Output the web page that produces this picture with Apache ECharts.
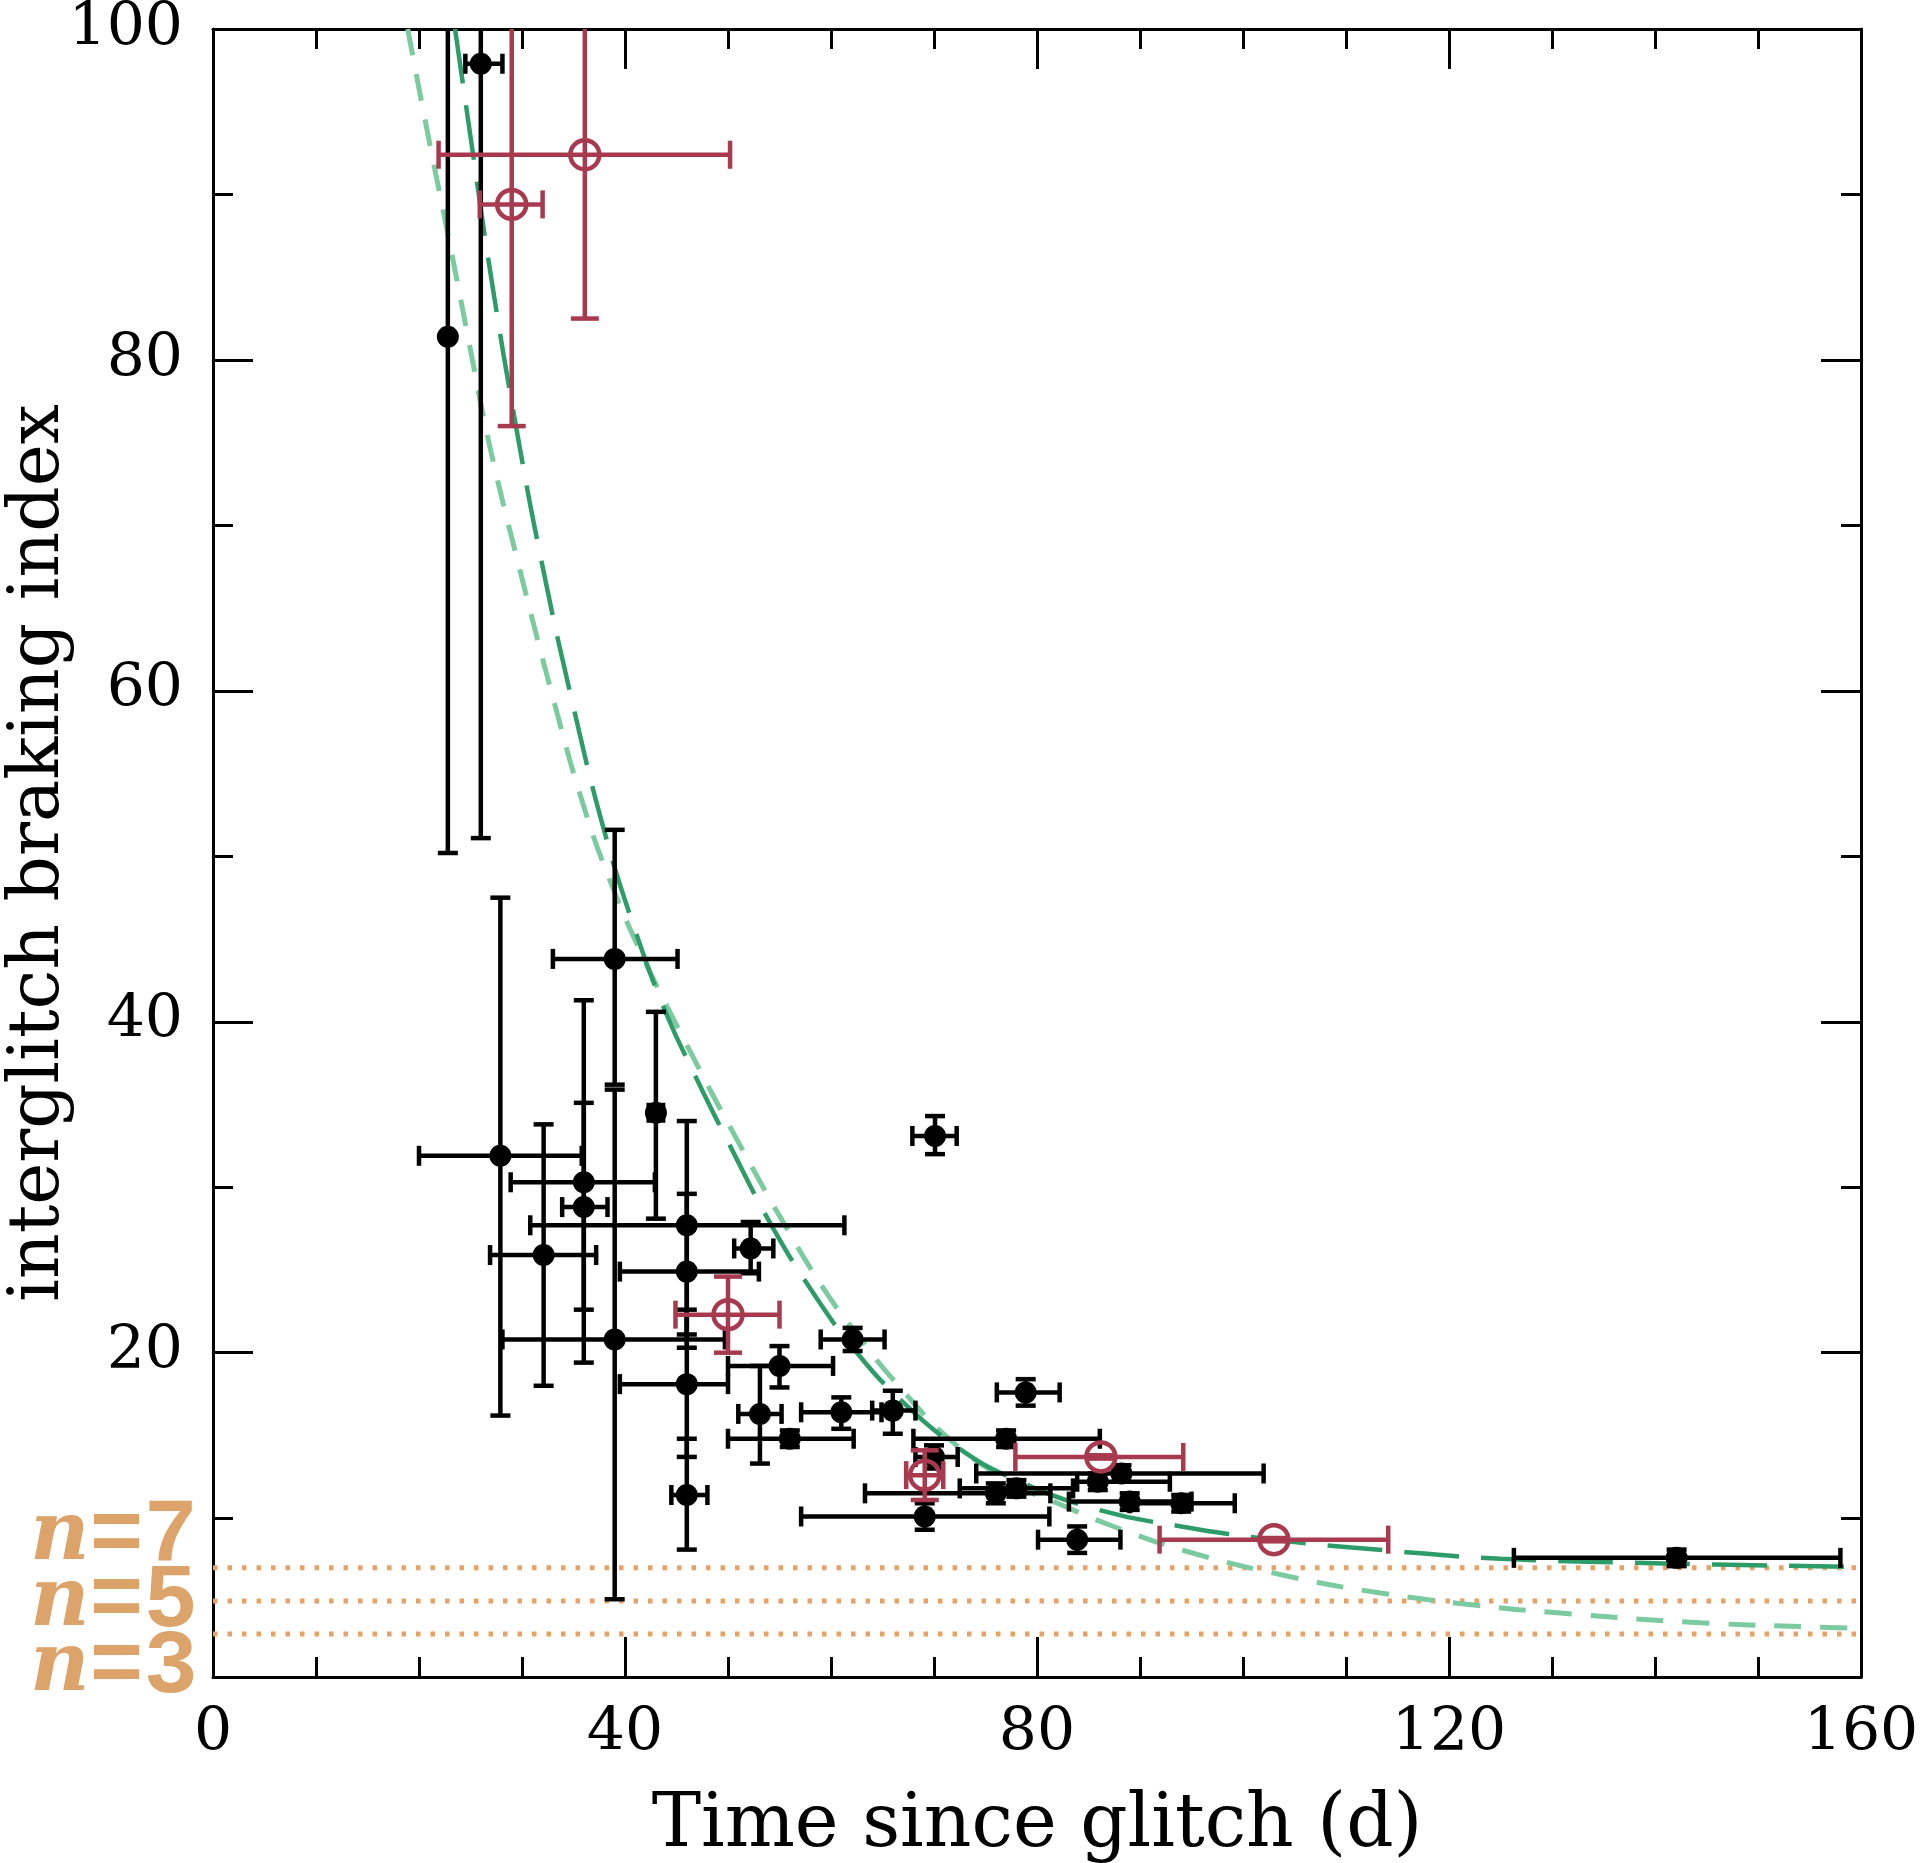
<!DOCTYPE html>
<html>
<head>
<meta charset="utf-8">
<script src="https://cdn.jsdelivr.net/npm/echarts@6/dist/echarts.min.js"></script>
<style>
html,body{margin:0;padding:0;background:#ffffff;}
#chart{width:1920px;height:1863px;}
</style>
</head>
<body>
<div id="chart"></div>
<script>
// ---- black measurements: value, error-bar ends ----
const blkX   = [26.0, 22.8, 39.0, 27.9, 36.0, 36.0, 32.1, 46.0, 43.0, 52.2, 46.0, 39.0, 46.0, 46.0, 55.0, 53.1, 56.0, 61.0, 62.1, 66.0, 70.1, 78.9, 77.0, 70.0, 69.1, 76.0, 78.0, 83.9, 88.2, 85.9, 89.0, 94.0, 142.1];
const blkY   = [97.9, 81.4, 43.8, 31.9, 30.3, 28.8, 25.9, 27.7, 34.5, 26.3, 24.9, 20.8, 18.1, 11.4, 19.2, 16.3, 14.8, 16.4, 20.8, 16.5, 33.1, 17.6, 14.8, 13.7, 10.1, 11.5, 11.8, 8.7, 12.7, 12.2, 11.0, 10.9, 7.6];
const blkXLo = [24.5, 22.8, 33.0, 20.0, 28.9, 33.9, 26.9, 30.8, 42.3, 50.6, 39.5, 28.1, 39.5, 44.5, 50.0, 51.0, 50.0, 57.1, 59.0, 64.0, 67.9, 76.1, 68.0, 68.2, 57.1, 63.3, 72.5, 80.1, 74.1, 83.9, 83.1, 89.0, 126.3];
const blkXHi = [28.1, 22.8, 45.1, 35.8, 42.9, 38.3, 37.2, 61.3, 43.7, 54.4, 53.0, 49.7, 50.0, 48.0, 60.2, 55.2, 62.2, 64.9, 65.2, 68.2, 72.2, 82.2, 86.1, 72.3, 81.2, 81.3, 83.5, 88.1, 102.0, 92.9, 95.0, 99.2, 158.0];
const blkYLo = [51.1, 50.2, 36.2, 16.2, 19.4, 22.6, 18.0, 21.1, 28.1, 24.8, 20.3, 5.1, 13.7, 8.1, 17.9, 13.3, 14.3, 15.4, 20.1, 15.1, 32.0, 16.8, 14.3, 13.0, 9.3, 10.9, 11.3, 7.9, 12.2, 11.7, 10.5, 10.4, 7.1];
const blkYHi = [144.7, 112.6, 51.6, 47.5, 41.3, 35.1, 33.8, 34.0, 40.6, 27.9, 29.6, 35.9, 22.6, 14.8, 20.4, 19.2, 15.3, 17.3, 21.5, 17.7, 34.3, 18.4, 15.3, 14.4, 10.9, 12.1, 12.3, 9.5, 13.2, 12.7, 11.5, 11.4, 8.1];

// ---- red measurements ----
const redX   = [29.0, 36.1, 50.0, 69.1, 86.2, 103.0];
const redY   = [89.4, 92.4, 22.3, 12.6, 13.7, 8.7];
const redXLo = [25.9, 21.9, 44.9, 67.3, 77.9, 91.9];
const redXHi = [32.0, 50.2, 55.0, 70.9, 94.2, 114.1];
const redYLo = [76.0, 82.5, 20.0, 11.1, 13.6, 8.6];
const redYHi = [102.8, 102.3, 24.6, 14.1, 13.8, 8.8];

// ---- model curves ----
const fitDarkX  = [23.5, 25, 27, 29.5, 32, 35, 38, 41, 44, 47, 50.2, 54.4, 58.6, 62, 66, 72, 78, 86, 94, 103, 114, 125, 142, 160];
const fitDarkY  = [100, 93.5, 85, 75.7, 67.5, 59, 51.5, 45.5, 40.5, 36.5, 32.5, 27.5, 23.3, 20.4, 17.6, 14.4, 12.3, 10.5, 9.5, 8.7, 8.05, 7.55, 7.25, 7.05];
const fitLightX = [18.9, 21, 23, 25, 26.9, 30, 33, 35.8, 38.5, 41.9, 46, 50.5, 56, 59.9, 62.8, 66, 72, 78, 82, 87, 94.5, 104.6, 113.5, 122.4, 131.1, 144.4, 157.6, 160];
const fitLightY = [100, 93.2, 87, 80.6, 74.7, 66.8, 59.6, 53.4, 48.6, 43.7, 38.6, 33.3, 27.2, 23.3, 20.9, 18.4, 14.5, 12.0, 10.9, 9.6, 8.0, 6.46, 5.46, 4.75, 4.25, 3.68, 3.38, 3.35];

// ---- reference braking indices ----
const nLevels = [7, 5, 3];

const X_MIN = 0, X_MAX = 160, Y_MIN = 0.4, Y_MAX = 100;

const C_BLACK = '#000000';
const C_RED = '#a83a4f';
const C_DARKG = '#2e9c68';
const C_LIGHTG = '#7ccaa0';
const C_ORANGE = '#e8a266';
const C_ORANGE_TXT = '#dca36a';

function rows(x, y, xl, xh, yl, yh) {
  return x.map((v, i) => [v, y[i], xl[i], xh[i], yl[i], yh[i]]);
}
function pairs(x, y) { return x.map((v, i) => [v, y[i]]); }

function errorBars(color, lw, cap) {
  return function (params, api) {
    const x = api.value(0), y = api.value(1);
    const xl = api.value(2), xh = api.value(3), yl = api.value(4), yh = api.value(5);
    const c = api.coord([x, y]);
    const style = { stroke: color, lineWidth: lw, fill: null };
    const kids = [];
    const seg = (x1, y1, x2, y2) => kids.push({ type: 'line', shape: { x1, y1, x2, y2 }, style });
    const a = api.coord([xl, y])[0], b = api.coord([xh, y])[0];
    if (b - a > 2) {
      seg(a, c[1], b, c[1]);
      seg(a, c[1] - cap / 2, a, c[1] + cap / 2);
      seg(b, c[1] - cap / 2, b, c[1] + cap / 2);
    }
    const clipTop = yh > Y_MAX;
    const t = api.coord([x, Math.min(yh, Y_MAX)])[1];
    const u = api.coord([x, yl])[1];
    if (u - t > 2) {
      seg(c[0], t, c[0], u);
      if (!clipTop) seg(c[0] - cap / 2, t, c[0] + cap / 2, t);
      seg(c[0] - cap / 2, u, c[0] + cap / 2, u);
    }
    return { type: 'group', children: kids };
  };
}

const SERIF = 'DejaVu Serif';
const axisBase = {
  type: 'value',
  axisLine: { show: true, onZero: false, lineStyle: { color: C_BLACK, width: 3 } },
  axisTick: { show: true, inside: true, length: 40, lineStyle: { color: C_BLACK, width: 3 } },
  splitLine: { show: false },
  minorSplitLine: { show: false }
};

const chart = echarts.init(document.getElementById('chart'), null, { renderer: 'canvas' });

const nSeries = nLevels.map(n => ({
  type: 'line',
  data: [[X_MIN, n], [X_MAX, n]],
  symbol: 'none',
  silent: true,
  z: 1,
  lineStyle: { color: C_ORANGE, width: 5, type: [4.5, 10], cap: 'butt' }
}));

chart.setOption({
  animation: false,
  backgroundColor: '#ffffff',
  grid: { left: 213, right: 59, top: 29, bottom: 186, containLabel: false, outerBoundsMode: 'none' },
  xAxis: [
    Object.assign({}, axisBase, {
      min: X_MIN, max: X_MAX, interval: 40, position: 'bottom',
      minorTick: { show: true, splitNumber: 4, length: 20, lineStyle: { color: C_BLACK, width: 3 } },
      axisLabel: { fontFamily: SERIF, fontSize: 60, color: C_BLACK, margin: 27 },
      name: 'Time since glitch (d)', nameLocation: 'middle', nameGap: 113, nameMoveOverlap: false,
      nameTextStyle: { fontFamily: SERIF, fontSize: 74, color: C_BLACK }
    }),
    Object.assign({}, axisBase, {
      min: X_MIN, max: X_MAX, interval: 40, position: 'top',
      minorTick: { show: true, splitNumber: 4, length: 20, lineStyle: { color: C_BLACK, width: 3 } },
      axisLabel: { show: false }
    })
  ],
  yAxis: [
    Object.assign({}, axisBase, {
      min: Y_MIN, max: Y_MAX, splitNumber: 5, position: 'left',
      minorTick: { show: true, splitNumber: 2, length: 20, lineStyle: { color: C_BLACK, width: 3 } },
      axisLabel: {
        fontFamily: SERIF, fontSize: 60, color: C_BLACK, margin: 30, showMinLabel: false,
        formatter: v => (Math.abs(v % 20) < 1e-6 && v > 0 ? String(v) : '')
      },
      name: 'interglitch braking index', nameLocation: 'middle', nameGap: 138, nameMoveOverlap: false,
      nameTextStyle: { fontFamily: SERIF, fontSize: 71, color: C_BLACK }
    }),
    Object.assign({}, axisBase, {
      min: Y_MIN, max: Y_MAX, splitNumber: 5, position: 'right',
      minorTick: { show: true, splitNumber: 2, length: 20, lineStyle: { color: C_BLACK, width: 3 } },
      axisLabel: { show: false }
    })
  ],
  series: nSeries.concat([
    {
      type: 'line', data: pairs(fitLightX, fitLightY), symbol: 'none', smooth: 0.45,
      silent: true, z: 2, clip: true,
      lineStyle: { color: C_LIGHTG, width: 5, type: [27, 19] }
    },
    {
      type: 'line', data: pairs(fitDarkX, fitDarkY), symbol: 'none', smooth: 0.45,
      silent: true, z: 2, clip: true,
      lineStyle: { color: C_DARKG, width: 4.5, type: [55, 22] }
    },
    {
      type: 'custom', data: rows(blkX, blkY, blkXLo, blkXHi, blkYLo, blkYHi),
      encode: { x: 0, y: 1 }, renderItem: errorBars(C_BLACK, 4.5, 20), z: 3, silent: true
    },
    {
      type: 'scatter', data: pairs(blkX, blkY), symbol: 'circle', symbolSize: 22, z: 4, silent: true,
      itemStyle: { color: C_BLACK, opacity: 1 }
    },
    {
      type: 'custom', data: rows(redX, redY, redXLo, redXHi, redYLo, redYHi),
      encode: { x: 0, y: 1 }, renderItem: errorBars(C_RED, 4.5, 28), z: 5, silent: true
    },
    {
      type: 'scatter', data: pairs(redX, redY), symbol: 'circle', symbolSize: 29, z: 6, silent: true,
      itemStyle: { color: 'rgba(255,255,255,0)', borderColor: C_RED, borderWidth: 4.5, opacity: 1 }
    }
  ]),
  graphic: nLevels.map((n, i) => ({
    type: 'text',
    x: 30,
    y: 1538 + i * 65.5,
    silent: true,
    style: {
      text: '{a|n}{b|=' + n + '}',
      verticalAlign: 'middle',
      rich: {
        a: { fontFamily: SERIF, fontStyle: 'italic', fontSize: 82, fill: C_ORANGE_TXT, fontWeight: 'bold' },
        b: { fontFamily: 'Liberation Mono', fontSize: 90, fill: C_ORANGE_TXT, fontWeight: 'bold' }
      }
    }
  }))
});
</script>
</body>
</html>
